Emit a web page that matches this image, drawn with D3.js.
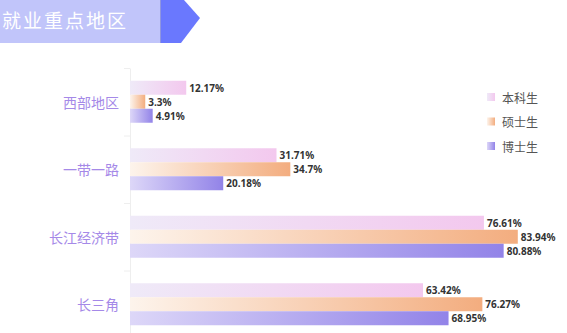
<!DOCTYPE html>
<html><head><meta charset="utf-8">
<script src="https://cdn.jsdelivr.net/npm/d3@7"></script>
<style>html,body{margin:0;padding:0;background:#fff;}svg{display:block;}</style>
</head><body>
<script>
const title = "就业重点地区";
const categories = ["西部地区", "一带一路", "长江经济带", "长三角"];
const seriesNames = ["本科生", "硕士生", "博士生"];
const undergrad = [12.17, 31.71, 76.61, 63.42];
const master = [3.3, 34.7, 83.94, 76.27];
const doctor = [4.91, 20.18, 80.88, 68.95];
const valueLabels = [
  ["12.17%", "31.71%", "76.61%", "63.42%"],
  ["3.3%", "34.7%", "83.94%", "76.27%"],
  ["4.91%", "20.18%", "80.88%", "68.95%"]
];
const series = [undergrad, master, doctor];
const gradStops = [["#efeaf8", "#f3c8ee"], ["#fdf4ec", "#f3ad7f"], ["#ddd7f8", "#9283e8"]];

const W = 567, H = 333;
const svg = d3.select("body").append("svg").attr("width", W).attr("height", H);
const defs = svg.append("defs");
gradStops.forEach((s, i) => {
  const g = defs.append("linearGradient").attr("id", "g" + i).attr("x1", "0").attr("x2", "1").attr("y1", "0").attr("y2", "0");
  g.append("stop").attr("offset", "0%").attr("stop-color", s[0]);
  g.append("stop").attr("offset", "100%").attr("stop-color", s[1]);
});

// title banner
svg.append("rect").attr("x", 0).attr("y", 0).attr("width", 160).attr("height", 43).attr("fill", "#c1c5fa");
svg.append("polygon").attr("points", "160,0 184,0 200,18 181,43 160,43").attr("fill", "#6a78fe");
svg.append("line").attr("x1", 160.5).attr("x2", 160.5).attr("y1", 0).attr("y2", 43).attr("stroke", "#8f96e0").attr("stroke-width", 1);
svg.append("text").attr("x", 2).attr("y", 28).text(title)
  .attr("fill", "#fff").attr("font-family", "Noto Sans CJK SC").attr("font-size", 19).attr("letter-spacing", 2);

const x = d3.scaleLinear().domain([0, 100]).range([130, 592]);
const y = d3.scaleBand().domain(categories).range([68, 338]);
const inner = d3.scaleBand().domain(d3.range(3)).range([0, 42]);
const yOff = (y.bandwidth() - 42) / 2;

// axis
const axis = svg.append("g").attr("transform", "translate(130,0)").call(d3.axisLeft(y).tickSize(0).tickFormat(""));
axis.select(".domain").attr("stroke", "#eeeeee");
categories.forEach((c, i) => {
  svg.append("line").attr("x1", 124).attr("x2", 130).attr("y1", y(c) + 0.5).attr("y2", y(c) + 0.5).attr("stroke", "#eeeeee");
});

svg.append("g").selectAll("text").data(categories).join("text")
  .attr("x", 119).attr("y", d => y(d) + y.bandwidth() / 2)
  .attr("text-anchor", "end").attr("dominant-baseline", "central")
  .attr("fill", "#a589e8").attr("font-family", "Noto Sans CJK SC").attr("font-size", 14)
  .text(d => d);

series.forEach((vals, si) => {
  const g = svg.append("g");
  g.selectAll("rect").data(vals).join("rect")
    .attr("x", x(0))
    .attr("y", (d, i) => y(categories[i]) + yOff + inner(si))
    .attr("width", d => x(d) - x(0))
    .attr("height", inner.bandwidth())
    .attr("fill", `url(#g${si})`);
  g.selectAll("text").data(vals).join("text")
    .attr("x", d => x(d) + 3)
    .attr("y", (d, i) => y(categories[i]) + yOff + inner(si) + inner.bandwidth() / 2)
    .attr("dominant-baseline", "central")
    .attr("fill", "#333").attr("font-family", "Noto Sans").attr("font-weight", "bold").attr("font-size", 10)
    .text((d, i) => valueLabels[si][i]);
});

// legend
const legend = svg.append("g");
seriesNames.forEach((n, i) => {
  const ly = 97 + i * 24.5;
  legend.append("rect").attr("x", 487).attr("y", ly - 4).attr("width", 8).attr("height", 8).attr("fill", `url(#g${i})`);
  legend.append("text").attr("x", 502).attr("y", ly).attr("dominant-baseline", "central")
    .attr("fill", "#555").attr("font-family", "Noto Sans CJK SC").attr("font-size", 12).text(n);
});
</script>
</body></html>
